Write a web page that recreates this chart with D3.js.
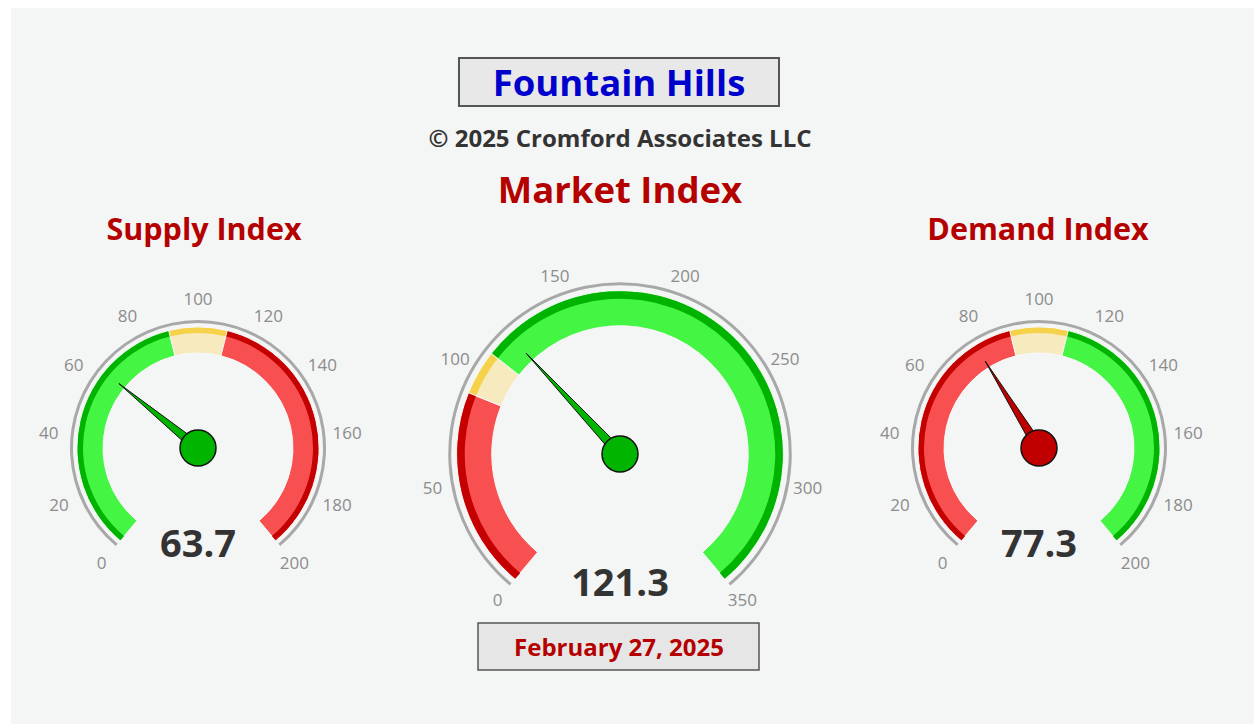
<!DOCTYPE html>
<html>
<head>
<meta charset="utf-8">
<script src="https://cdn.jsdelivr.net/npm/d3@7"></script>
<style>
  body { margin: 0; background: #ffffff; }
  svg { display: block; font-family: "Open Sans", sans-serif; }
</style>
</head>
<body>
<svg id="chart" width="1254" height="724"></svg>
<script>
// gauge data
const gaugeNames = ["Supply Index", "Market Index", "Demand Index"];
const gaugeValues = [63.7, 121.3, 77.3];
const gaugeMax = [200, 350, 200];
const gaugeTicks = [
    [0, 20, 40, 60, 80, 100, 120, 140, 160, 180, 200],
    [0, 50, 100, 150, 200, 250, 300, 350],
    [0, 20, 40, 60, 80, 100, 120, 140, 160, 180, 200]
];
// band limits: from, to, colour name
const supplyBands = [[0, 90, "green"], [90, 110, "yellow"], [110, 200, "red"]];
const marketBands = [[0, 90, "red"], [90, 110, "yellow"], [110, 350, "green"]];
const demandBands = [[0, 90, "red"], [90, 110, "yellow"], [110, 200, "green"]];
const needleColors = ["green", "green", "red"];

const titleText = "Fountain Hills";
const copyText = "\u00a9 2025 Cromford Associates LLC";
const mainTitle = "Market Index";
const dateText = "February 27, 2025";

const palette = {
    green:  { dark: "#00b300", light: "#44f544", pin: "#00b400" },
    yellow: { dark: "#f5d24a", light: "#f7eabf", pin: "#f5d24a" },
    red:    { dark: "#c40000", light: "#f85050", pin: "#c00000" }
};

const svg = d3.select("#chart");

// background panel
svg.append("rect")
    .attr("x", 11).attr("y", 8)
    .attr("width", 1254 - 11).attr("height", 724 - 8)
    .attr("fill", "#f4f5f5");

// header
svg.append("rect")
    .attr("x", 459).attr("y", 58).attr("width", 320).attr("height", 48)
    .attr("fill", "#e8e8e8").attr("stroke", "#555").attr("stroke-width", 2);
svg.append("text")
    .attr("x", 619).attr("y", 96)
    .attr("text-anchor", "middle")
    .style("font-size", "36.5px").style("font-weight", 700)
    .attr("fill", "#0000cc")
    .text(titleText);

svg.append("text")
    .attr("x", 620).attr("y", 147)
    .attr("text-anchor", "middle")
    .style("font-size", "24px").style("font-weight", 700)
    .attr("fill", "#333")
    .text(copyText);

svg.append("text")
    .attr("x", 620).attr("y", 203)
    .attr("text-anchor", "middle")
    .style("font-size", "36.5px").style("font-weight", 700)
    .attr("fill", "#b50000")
    .text(mainTitle);

// date box
svg.append("rect")
    .attr("x", 478).attr("y", 623).attr("width", 281).attr("height", 47)
    .attr("fill", "#e6e6e6").attr("stroke", "#555").attr("stroke-width", 1.5);
svg.append("text")
    .attr("x", 619).attr("y", 656)
    .attr("text-anchor", "middle")
    .style("font-size", "24px").style("font-weight", 700)
    .attr("fill", "#b50000")
    .text(dateText);

const layout = [
    { cx: 198, cy: 448, s: 1, tx: 204 },
    { cx: 620, cy: 454, s: 1.35, tx: null },
    { cx: 1039, cy: 448, s: 1, tx: 1038 }
];
const bandsList = [supplyBands, marketBands, demandBands];
const deg = Math.PI / 180;

function drawGauge(i) {
    const L = layout[i];
    const s = L.s;
    const g = svg.append("g").attr("transform", `translate(${L.cx},${L.cy})`);

    const a = d3.scaleLinear()
        .domain([0, gaugeMax[i]])
        .range([-140 * deg, 140 * deg]);

    const rOuter = 121 * s, rDark = 115 * s, rInner = 95 * s;

    if (L.tx !== null) {
        svg.append("text")
            .attr("x", L.tx).attr("y", 240)
            .attr("text-anchor", "middle")
            .style("font-size", "30.5px").style("font-weight", 700)
            .attr("fill", "#b50000")
            .text(gaugeNames[i]);
    }

    // grey rim
    g.append("path")
        .attr("d", d3.arc()({ innerRadius: 125 * s, outerRadius: 125 * s + 3,
            startAngle: a.range()[0], endAngle: a.range()[1] }))
        .attr("fill", "#a8a8a8");

    // bands: light full width first, dark outer strip on top
    bandsList[i].forEach(b => {
        const c = palette[b[2]];
        g.append("path")
            .attr("d", d3.arc()({ innerRadius: rInner, outerRadius: rOuter,
                startAngle: a(b[0]), endAngle: a(b[1]) }))
            .attr("fill", c.light)
            .attr("stroke", "#f8f8f8").attr("stroke-width", 1);
    });
    bandsList[i].forEach(b => {
        const c = palette[b[2]];
        const pad = 0.6 / rOuter;
        g.append("path")
            .attr("d", d3.arc()({ innerRadius: rDark, outerRadius: rOuter - 0.5,
                startAngle: a(b[0]) + (b[0] > 0 ? pad : 0),
                endAngle: a(b[1]) - (b[1] < gaugeMax[i] ? pad : 0) }))
            .attr("fill", c.dark);
    });

    // tick labels
    const rLab = 150 * (s > 1 ? 1.27 : 1);
    g.selectAll("text.tick")
        .data(gaugeTicks[i])
        .join("text")
        .attr("class", "tick")
        .attr("x", d => rLab * Math.sin(a(d)))
        .attr("y", d => -rLab * Math.cos(a(d)))
        .attr("text-anchor", "middle")
        .attr("dominant-baseline", "central")
        .style("font-size", "17px")
        .attr("fill", "#8c8c8c")
        .text(d => d);

    // needle
    const ang = a(gaugeValues[i]);
    const len = 102 * s;
    const bw = 5;
    const ux = Math.sin(ang), uy = -Math.cos(ang);
    const px = -uy, py = ux;
    const pts = [
        [px * bw, py * bw],
        [ux * len, uy * len],
        [-px * bw, -py * bw]
    ];
    const nc = palette[needleColors[i]].pin;
    g.append("path")
        .attr("d", d3.line()(pts) + "Z")
        .attr("fill", nc)
        .attr("stroke", "#111").attr("stroke-width", 1);
    g.append("circle")
        .attr("r", 18)
        .attr("fill", nc)
        .attr("stroke", "#111").attr("stroke-width", 1.5);

    // value
    g.append("text")
        .attr("x", 0).attr("y", 109 * (s > 1 ? 1.3 : 1))
        .attr("text-anchor", "middle")
        .style("font-size", "38px").style("font-weight", 700)
        .attr("fill", "#333")
        .text(gaugeValues[i]);
}

[0, 1, 2].forEach(drawGauge);
</script>
</body>
</html>
